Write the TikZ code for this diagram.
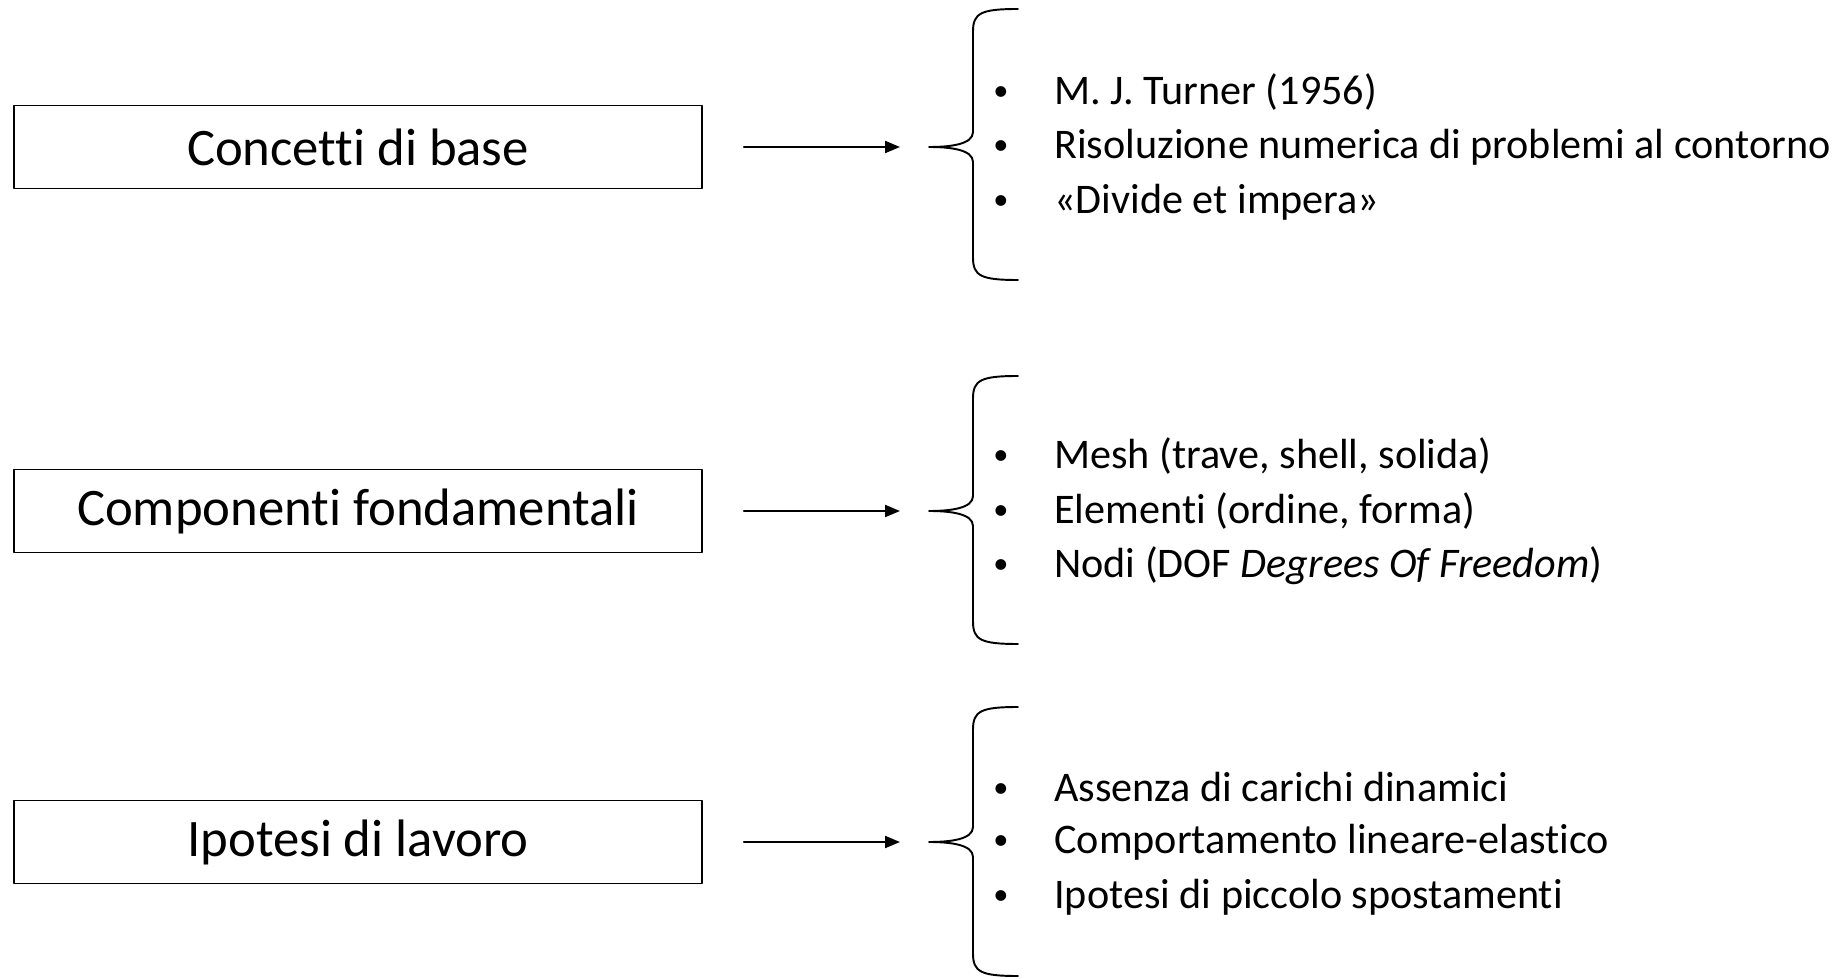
\documentclass[tikz,border=0pt]{standalone}
\usepackage{fontspec}
\setmainfont{Carlito}[RawFeature={-liga}]
\usetikzlibrary{arrows.meta,positioning}

\newcommand{\smallbullet}{\raisebox{0.1em}{\scalebox{0.72}{\textbullet}}}

\begin{document}
\begin{tikzpicture}[line cap=round, line join=round,
    boxnode/.style={draw, line width=1.1pt, minimum width=13.76cm, minimum height=1.66cm,
                    inner sep=0pt, font=\fontsize{30}{36}\selectfont},
    itemnode/.style={anchor=west, inner sep=0pt, font=\fontsize{24}{29}\selectfont},
    linkarrow/.style={-{Triangle[length=3mm,width=2.4mm]}, line width=1.2pt},
    bracelines/.style={line width=1.1pt}]
  \useasboundingbox (0,0) rectangle (36.88,19.56);
  % boxes, braces and arrows
  \foreach \r/\yc/\ytop/\ybot/\lab in {1/16.62/19.38/13.96/{Concetti di base},
                                       2/9.34/12.04/6.68/{Componenti fondamentali},
                                       3/2.72/5.42/0.04/{Ipotesi di lavoro}} {%
    \node[boxnode] (b\r) at (7.16,\yc) {\lab};
    \coordinate (t\r) at (18.58,\yc);
    \draw[bracelines] (20.36,\ytop) .. controls (19.62,\ytop) and (19.46,\ytop-0.08) .. (19.46,\ytop-0.45)
      -- (19.46,\yc+0.3) .. controls (19.46,\yc+0.05) and (19.0,\yc) .. (t\r)
      .. controls (19.0,\yc) and (19.46,\yc-0.05) .. (19.46,\yc-0.3)
      -- (19.46,\ybot+0.45) .. controls (19.46,\ybot+0.08) and (19.62,\ybot) .. (20.36,\ybot);
    \draw[linkarrow, shorten <=0.82cm, shorten >=0.58cm] (b\r) -- (t\r);
  }
  % bullet lists
  \foreach \r/\k/\txt in {1/1/{M. J. Turner (1956)},
                          1/2/{Risoluzione numerica di problemi al contorno},
                          1/3/{«Divide et impera»},
                          2/1/{Mesh (trave, shell, solida)},
                          2/2/{Elementi (ordine, forma)},
                          2/3/{Nodi (DOF \textit{Degrees Of Freedom})},
                          3/1/{Assenza di carichi dinamici},
                          3/2/{Comportamento lineare-elastico},
                          3/3/{Ipotesi di piccolo spostamenti}} {%
    \node[itemnode] (i\r\k) at ([yshift={(2-\k)*1.1cm}]t\r -| 19.86,0)
      {\makebox[1.22cm][l]{\smallbullet}\txt};
  }
\end{tikzpicture}
\end{document}
